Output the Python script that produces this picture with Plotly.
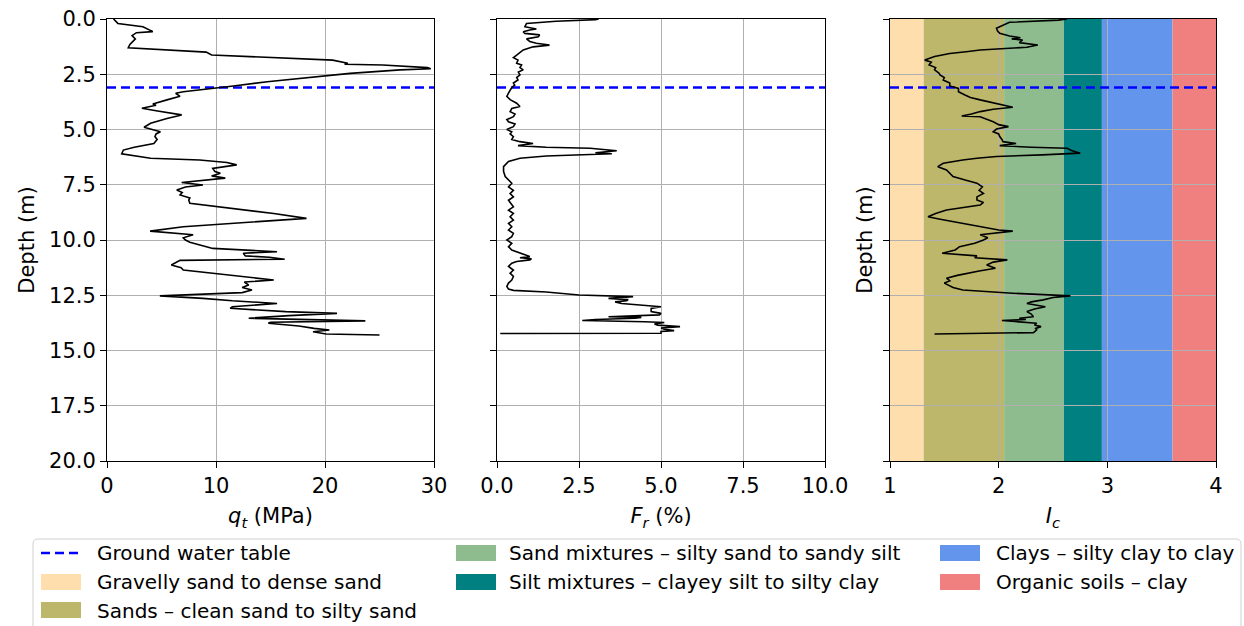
import plotly.graph_objects as go

# ---------------- data ----------------
depth_qt = [0.0, 0.05, 0.2, 0.35, 0.5, 0.57, 0.62, 0.75, 0.9, 1.02, 1.15, 1.3, 1.4, 1.5, 1.63, 1.7, 1.86, 2.0, 2.05,
            2.08, 2.2, 2.25, 2.3, 2.46, 2.6, 2.68, 2.84, 3.03, 3.14, 3.29, 3.36, 3.5, 3.66, 3.85, 3.9, 4.04, 4.15,
            4.34, 4.5, 4.72, 4.9, 5.1, 5.2, 5.32, 5.45, 5.63, 5.8, 5.93, 6.1, 6.3, 6.38, 6.49, 6.6, 6.7, 6.76, 6.9,
            6.98, 7.1, 7.2, 7.4, 7.51, 7.6, 7.74, 7.85, 7.96, 8.1, 8.19, 8.34, 8.57, 8.8, 9.02, 9.25, 9.4, 9.6, 9.7,
            9.76, 9.9, 10.0, 10.1, 10.38, 10.53, 10.6, 10.72, 10.78, 10.87, 10.92, 11.13, 11.25, 11.36, 11.5, 11.66,
            11.81, 11.9, 12.04, 12.15, 12.26, 12.38, 12.45, 12.53, 12.64, 12.75, 12.87, 13.02, 13.09, 13.24, 13.32,
            13.42, 13.54, 13.6, 13.66, 13.72, 13.77, 13.89, 14.0, 14.07, 14.15, 14.25, 14.3]
qt = [0.6, 0.7, 1.0, 3.3, 4.0, 4.2, 2.7, 2.3, 2.6, 2.4, 2.1, 1.95, 5.5, 9.1, 9.6, 13.1, 20.7, 22.1, 21.8,
      25.3, 29.4, 29.7, 26.9, 22.3, 19.5, 18.3, 14.7, 11.6, 9.4, 7.0, 6.3, 6.7, 5.5, 4.2, 4.5, 3.2, 4.5,
      6.85, 5.5, 4.0, 3.4, 4.9, 4.5, 4.4, 4.6, 4.3, 2.5, 1.5, 1.35, 4.0, 8.5, 11.0, 11.9, 10.2, 9.7, 9.9,
      10.4, 9.6, 10.85, 6.85, 8.8, 7.2, 6.4, 6.9, 6.7, 7.6, 7.5, 7.6, 11.6, 15.3, 18.3, 11.6, 7.0, 3.95, 6.1,
      7.9, 7.0, 7.2, 7.6, 9.7, 15.6, 12.5, 12.7, 14.9, 16.3, 6.7, 5.9, 6.8, 7.0, 9.7, 13.0,
      15.3, 12.6, 13.0, 12.4, 13.3, 12.4, 8.8, 4.85, 8.8, 11.5, 15.6, 11.5, 11.3, 16.4, 21.1,
      16.7, 13.0, 18.0, 23.7, 15.0, 14.8, 17.6, 19.0, 20.4, 18.9, 20.1, 25.0]

depth_fr = [0.0, 0.03, 0.1, 0.2, 0.35, 0.45, 0.5, 0.58, 0.65, 0.72, 0.8, 0.9, 1.02, 1.1, 1.18, 1.26, 1.4, 1.5,
            1.63, 1.75, 1.86, 2.0, 2.08, 2.2, 2.3, 2.4, 2.53, 2.65, 2.76, 2.9, 2.99, 3.1, 3.2, 3.35, 3.5, 3.65,
            3.81, 3.96, 4.05, 4.19, 4.3, 4.42, 4.55, 4.65, 4.75, 4.87, 5.0, 5.1, 5.2, 5.32, 5.45, 5.55, 5.63,
            5.73, 5.8, 5.85, 5.96, 6.02, 6.05, 6.1, 6.15, 6.2, 6.3, 6.45, 6.68, 6.9, 7.13, 7.3, 7.43, 7.6, 7.75,
            7.9, 8.05, 8.2, 8.34, 8.5, 8.65, 8.8, 8.95, 9.1, 9.25, 9.4, 9.55, 9.7, 9.85, 10.0, 10.15, 10.3,
            10.45, 10.6, 10.7, 10.75, 10.8, 10.85, 10.9, 10.97, 11.05, 11.2, 11.36, 11.5, 11.65, 11.81, 11.95,
            12.1, 12.22, 12.28, 12.35, 12.49, 12.56, 12.6, 12.64, 12.7, 12.75, 12.8, 12.87, 13.02, 13.1, 13.24,
            13.32, 13.39, 13.47, 13.5, 13.54, 13.6, 13.64, 13.7, 13.73, 13.8, 13.85, 13.92, 13.98, 14.04, 14.1,
            14.14, 14.22, 14.23]
fr = [3.1, 3.0, 1.8, 0.9, 0.85, 1.2, 1.0, 0.8, 0.85, 1.3, 1.26, 0.9, 1.0, 1.2, 1.6, 1.1, 0.8, 0.7,
      0.6, 0.5, 0.64, 0.6, 0.75, 0.7, 0.8, 0.65, 0.7, 0.6, 0.64, 0.5, 0.54, 0.45, 0.4, 0.35, 0.3, 0.4,
      0.6, 0.7, 0.45, 0.4, 0.55, 0.5, 0.3, 0.35, 0.55, 0.5, 0.3, 0.45, 0.4, 0.5, 0.45, 0.7, 1.1,
      0.64, 1.5, 2.84, 3.65, 3.2, 3.0, 3.5, 2.6, 1.5, 0.7, 0.35, 0.2, 0.2, 0.25, 0.35, 0.45, 0.35, 0.5,
      0.4, 0.5, 0.35, 0.42, 0.5, 0.35, 0.5, 0.4, 0.5, 0.35, 0.45, 0.35, 0.5, 0.45, 0.3, 0.45, 0.35,
      0.45, 0.7, 0.9, 1.0, 0.7, 1.05, 1.0, 0.6, 0.45, 0.35, 0.5, 0.4, 0.5, 0.45, 0.35,
      0.3, 0.35, 0.5, 1.5, 2.5, 4.15, 3.6, 3.4, 4.0, 3.95, 3.6, 3.8, 5.0, 4.7, 4.7,
      5.0, 4.95, 3.4, 4.4, 4.2, 3.0, 2.6, 4.5, 5.1, 4.8, 4.9, 5.58, 5.0, 5.1, 5.4,
      5.0, 5.0, 0.1]

depth_ic = [0.0, 0.05, 0.15, 0.27, 0.42, 0.55, 0.65, 0.77, 0.85, 0.9, 0.95, 1.07, 1.18, 1.28, 1.35, 1.4, 1.47,
            1.56, 1.7, 1.86, 1.95, 2.08, 2.2, 2.3, 2.45, 2.53, 2.65, 2.76, 2.9, 3.03, 3.14, 3.29, 3.44, 3.55,
            3.66, 3.81, 3.9, 3.99, 4.08, 4.19, 4.3, 4.39, 4.42, 4.55, 4.65, 4.78, 4.87, 4.98, 5.1, 5.2, 5.32,
            5.45, 5.55, 5.63, 5.73, 5.8, 5.85, 5.95, 6.07, 6.15, 6.22, 6.3, 6.38, 6.53, 6.68, 6.83, 7.0, 7.13,
            7.3, 7.43, 7.6, 7.75, 7.89, 8.05, 8.19, 8.3, 8.42, 8.55, 8.64, 8.8, 8.95, 9.05, 9.17, 9.3, 9.4,
            9.55, 9.6, 9.68, 9.76, 9.9, 10.0, 10.15, 10.3, 10.45, 10.6, 10.72, 10.8, 10.9, 11.0, 11.13, 11.28,
            11.4, 11.51, 11.6, 11.73, 11.85, 11.95, 12.04, 12.15, 12.26, 12.41, 12.53, 12.6, 12.71, 12.8, 12.87,
            12.95, 13.02, 13.12, 13.24, 13.35, 13.47, 13.54, 13.6, 13.64, 13.7, 13.77, 13.85, 13.92, 14.0,
            14.07, 14.19, 14.25]
ic = [2.63, 2.55, 2.1, 2.04, 1.98, 1.99, 2.01, 2.10, 2.2, 2.12, 2.22, 2.19, 2.36, 2.26, 2.0, 1.83, 1.72,
      1.55, 1.41, 1.32, 1.38, 1.36, 1.42, 1.41, 1.45, 1.46, 1.5, 1.49, 1.55, 1.55, 1.63, 1.63, 1.69, 1.74,
      1.83, 1.98, 2.05, 2.13, 1.95, 1.83, 1.75, 1.66, 1.83, 1.9, 1.95, 2.0, 2.09, 1.98, 1.95, 2.0, 2.01,
      2.03, 2.04, 2.16, 2.01, 2.3, 2.63, 2.67, 2.75, 2.4, 1.98, 1.8, 1.67, 1.49, 1.44, 1.52, 1.55, 1.58,
      1.7, 1.80, 1.85, 1.82, 1.86, 1.8, 1.80, 1.86, 1.83, 1.65, 1.52, 1.42, 1.35, 1.45, 1.58, 1.72, 1.83,
      2.0, 2.13, 1.95, 1.83, 1.9, 1.86, 1.78, 1.64, 1.6, 1.48, 1.80, 1.78, 2.08, 1.95, 1.89, 1.97,
      1.82, 1.70, 1.62, 1.52, 1.55, 1.5, 1.53, 1.58, 1.67, 2.13, 2.66, 2.5, 2.41, 2.3, 2.26,
      2.35, 2.43, 2.33, 2.26, 2.3, 2.32, 2.19, 2.25, 2.03, 2.2, 2.35, 2.33, 2.39, 2.34,
      2.35, 2.32, 1.41]

gwt_depth = 3.1
gwt_name = "Ground water table"
ic_bounds = [1.0, 1.31, 2.05, 2.60, 2.95, 3.60, 4.0]
zone_names = ["Gravelly sand to dense sand",
              "Sands \u2013 clean sand to silty sand",
              "Sand mixtures \u2013 silty sand to sandy silt",
              "Silt mixtures \u2013 clayey silt to silty clay",
              "Clays \u2013 silty clay to clay",
              "Organic soils \u2013 clay"]
zone_colors = ["#FFDEAD", "#BDB76B", "#8FBC8F", "#008080", "#6495ED", "#F08080"]

x_ranges = [[0, 30], [0, 10], [1, 4]]
depth_range = [20, 0]

# ---------------- figure geometry ----------------
W, H = 1244, 626
L, R, T, B = 107, 28, 19, 165
pw = W - L - R
ph = H - T - B


def px_x(p):
    return (p - L) / pw


def px_y(p):
    return (H - B - p) / ph


FONT = "DejaVu Sans"
GWT_COLOR = "#0000FF"
GWT_DASH = "9px,5px"
fig = go.Figure()

# GWT lines in all three panels
for i, xr in enumerate(x_ranges):
    sfx = "" if i == 0 else str(i + 1)
    fig.add_trace(go.Scatter(x=xr, y=[gwt_depth, gwt_depth], mode="lines",
                             line=dict(color=GWT_COLOR, width=2.5, dash=GWT_DASH),
                             showlegend=False, xaxis="x" + sfx, yaxis="y" + sfx, hoverinfo="skip"))

# profiles
for (xs, ys, sfx) in [(qt, depth_qt, ""), (fr, depth_fr, "2"), (ic, depth_ic, "3")]:
    fig.add_trace(go.Scatter(x=xs, y=ys, mode="lines", line=dict(color="black", width=1.6),
                             showlegend=False, xaxis="x" + sfx, yaxis="y" + sfx))

# soil zones (below grid)
for k in range(len(zone_names)):
    fig.add_shape(type="rect", xref="x3", yref="y3", x0=ic_bounds[k], x1=ic_bounds[k + 1],
                  y0=depth_range[1], y1=depth_range[0], fillcolor=zone_colors[k],
                  line=dict(width=0), layer="below")

# ---------------- legend (matplotlib-like, 3 columns) ----------------
entries = [gwt_name] + zone_names
entry_col = [0, 0, 0, 1, 1, 2, 2]
entry_row = [0, 1, 2, 0, 1, 0, 1]
col_sym = [(41, 81), (456, 496), (940, 980)]
col_text = [97, 509, 996]
row_y = [553, 582, 610]
TEXT_OFF = 40  # plotly legend text offset with itemwidth=30

for j, name in enumerate(entries):
    c = entry_col[j]
    fig.add_trace(go.Scatter(x=[None], y=[None], mode="lines", name=name,
                             line=dict(color="rgba(0,0,0,0)", width=1),
                             legend=["legend", "legend2", "legend3"][c], xaxis="x3", yaxis="y3",
                             hoverinfo="skip"))
    x0, x1 = col_sym[c]
    yc = row_y[entry_row[j]]
    if j == 0:
        fig.add_shape(type="line", xref="paper", yref="paper", x0=px_x(x0), x1=px_x(x1 + 1),
                      y0=px_y(yc), y1=px_y(yc), line=dict(color=GWT_COLOR, width=2.5, dash=GWT_DASH))
    else:
        fig.add_shape(type="rect", xref="paper", yref="paper", x0=px_x(x0), x1=px_x(x1),
                      y0=px_y(yc + 8), y1=px_y(yc - 8), fillcolor=zone_colors[j - 1], line=dict(width=0))

# legend frame with rounded corners
fx0, fx1, fy0, fy1, rr = 33, 1241, 539, 660, 5


def P(x, y):
    return "%.5f,%.5f" % (px_x(x), px_y(y))


frame_path = ("M " + P(fx0 + rr, fy0) + " L " + P(fx1 - rr, fy0) + " Q " + P(fx1, fy0) + " " + P(fx1, fy0 + rr)
              + " L " + P(fx1, fy1 - rr) + " Q " + P(fx1, fy1) + " " + P(fx1 - rr, fy1)
              + " L " + P(fx0 + rr, fy1) + " Q " + P(fx0, fy1) + " " + P(fx0, fy1 - rr)
              + " L " + P(fx0, fy0 + rr) + " Q " + P(fx0, fy0) + " " + P(fx0 + rr, fy0) + " Z")
fig.add_shape(type="path", xref="paper", yref="paper", path=frame_path,
              line=dict(color="#d0d0d0", width=1), fillcolor="rgba(0,0,0,0)", layer="above")

# ---------------- axes ----------------
axis_common = dict(showline=True, linecolor="black", linewidth=1, mirror=True, ticks="outside",
                   ticklen=6, tickcolor="black", showgrid=True, gridcolor="#b0b0b0", gridwidth=1,
                   zeroline=False, tickfont=dict(family=FONT, size=21, color="black"))

doms = [[0, px_x(434)], [px_x(497), px_x(825)], [px_x(890), 1.0]]
titles = ["<i>q<sub>t</sub></i> (MPa)", "<i>F<sub>r</sub></i> (%)", "<i>I<sub>c</sub></i>"]
dticks = [10, 2.5, 1]
fmts = ["d", ".1f", "d"]
lay = {}
for i in range(3):
    sfx = "" if i == 0 else str(i + 1)
    lay["xaxis" + sfx] = dict(axis_common, domain=doms[i], range=x_ranges[i], dtick=dticks[i], tick0=0,
                              tickformat=fmts[i], anchor="y" + sfx,
                              title=dict(text=titles[i], font=dict(family=FONT, size=21, color="black"),
                                         standoff=11))
    ydict = dict(axis_common, domain=[0, 1], range=depth_range, dtick=2.5, tick0=0,
                 tickformat=".1f", anchor="x" + sfx, showticklabels=(i == 0))
    if i != 1:
        ydict["title"] = dict(text="Depth (m)", font=dict(family=FONT, size=21, color="black"),
                              standoff=8 if i == 0 else 4)
    lay["yaxis" + sfx] = ydict

leg_common = dict(font=dict(family=FONT, size=20, color="black"), orientation="v", yanchor="top",
                  xanchor="left", bgcolor="rgba(0,0,0,0)", borderwidth=0, itemwidth=30,
                  tracegroupgap=0)
leg_top = px_y(533)
fig.update_layout(
    width=W, height=H, margin=dict(l=L, r=R, t=T, b=B, autoexpand=False),
    paper_bgcolor="white", plot_bgcolor="white",
    font=dict(family=FONT, size=20, color="black"),
    legend=dict(leg_common, x=px_x(col_text[0] - TEXT_OFF), y=leg_top),
    legend2=dict(leg_common, x=px_x(col_text[1] - TEXT_OFF), y=leg_top),
    legend3=dict(leg_common, x=px_x(col_text[2] - TEXT_OFF), y=leg_top),
    **lay,
)

fig.write_html("out.html")
